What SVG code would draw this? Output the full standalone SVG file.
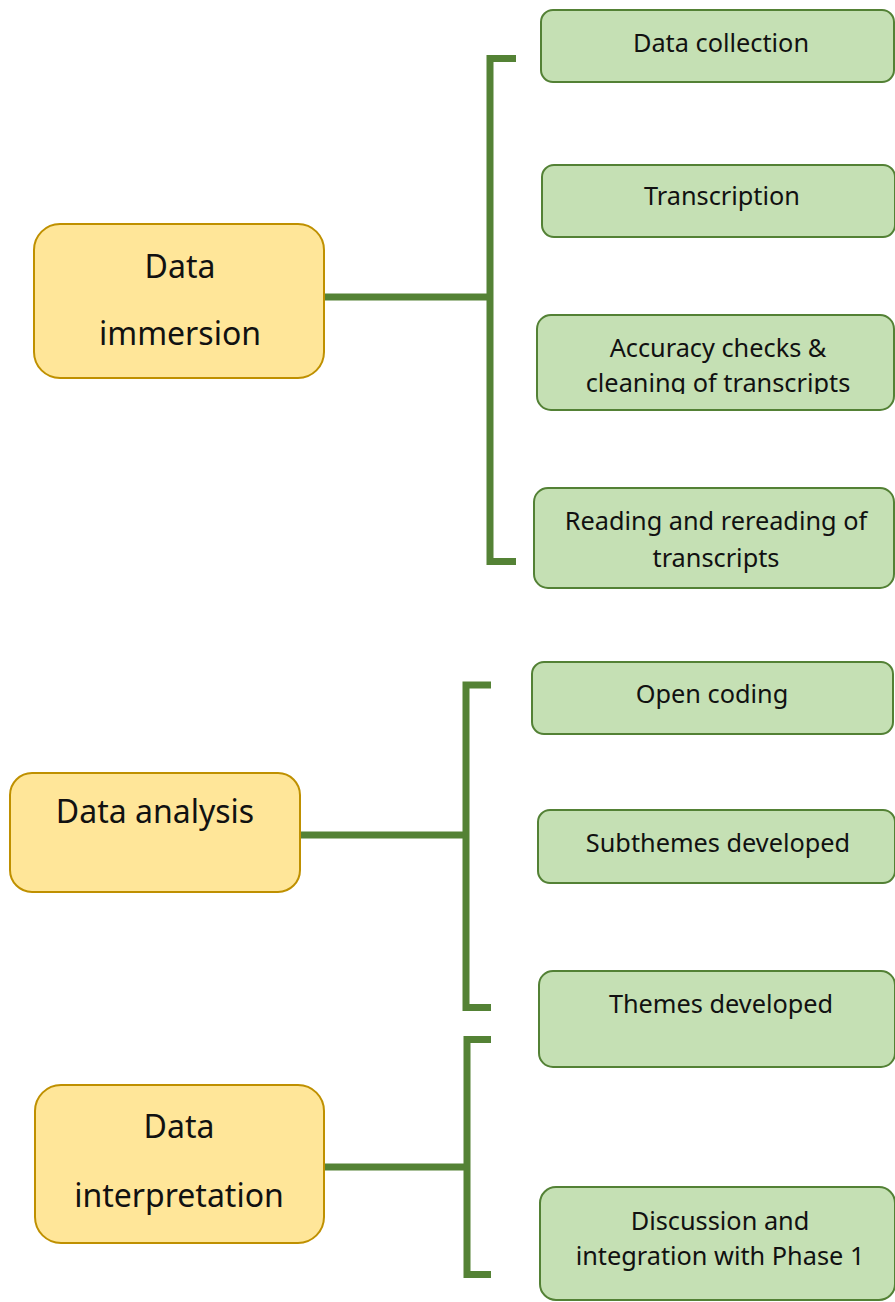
<svg xmlns="http://www.w3.org/2000/svg" width="895" height="1302" viewBox="0 0 895 1302">
  <style>
    .phase rect { fill: #FFE699; stroke: #BF9000; stroke-width: 2; }
    .step rect { fill: #C5E0B4; stroke: #538135; stroke-width: 2; }
    text { font-family: "Noto Sans", "Open Sans", sans-serif; fill: #111; text-anchor: middle; }
    .phase text { font-size: 32px; }
    .step text { font-size: 25.3px; }
    .link { fill: none; stroke: #548235; stroke-width: 7; stroke-linejoin: miter; stroke-linecap: butt; }
  </style>
  <defs>
    <clipPath id="clip-accuracy">
      <rect x="537" y="314" width="360" height="80"/>
    </clipPath>
  </defs>
  <rect width="895" height="1302" fill="#ffffff"/>

  <!-- brackets joining each phase to its steps -->
  <g id="connectors">
    <path class="link" d="M324,297 H490"/>
    <path class="link" d="M516,58.5 H490 V561.5 H516"/>
    <path class="link" d="M300,835 H466"/>
    <path class="link" d="M491,685 H466 V1007.5 H491"/>
    <path class="link" d="M324,1167 H467"/>
    <path class="link" d="M491,1039.5 H467 V1274.5 H491"/>
  </g>

  <!-- phases -->
  <g id="phase-immersion" class="phase">
    <rect x="34" y="224" width="290" height="154" rx="26"/>
    <text x="180" y="278">Data</text>
    <text x="180" y="345">immersion</text>
  </g>
  <g id="phase-analysis" class="phase">
    <rect x="10" y="773" width="290" height="119" rx="22"/>
    <text x="155" y="823">Data analysis</text>
  </g>
  <g id="phase-interpretation" class="phase">
    <rect x="35" y="1085" width="289" height="158" rx="26"/>
    <text x="179" y="1138">Data</text>
    <text x="179" y="1207">interpretation</text>
  </g>

  <!-- steps of data immersion -->
  <g id="step-collection" class="step">
    <rect x="541" y="10" width="353" height="72" rx="12"/>
    <text x="721" y="52">Data collection</text>
  </g>
  <g id="step-transcription" class="step">
    <rect x="542" y="165" width="353" height="72" rx="12"/>
    <text x="722" y="205">Transcription</text>
  </g>
  <g id="step-accuracy" class="step">
    <rect x="537" y="315" width="357" height="95" rx="14"/>
    <g clip-path="url(#clip-accuracy)">
      <text x="718" y="357">Accuracy checks &amp;</text>
      <text x="718" y="392">cleaning of transcripts</text>
    </g>
  </g>
  <g id="step-reading" class="step">
    <rect x="534" y="488" width="360" height="100" rx="14"/>
    <text x="716" y="530">Reading and rereading of</text>
    <text x="716" y="567">transcripts</text>
  </g>

  <!-- steps of data analysis -->
  <g id="step-open-coding" class="step">
    <rect x="532" y="662" width="361" height="72" rx="12"/>
    <text x="712" y="703">Open coding</text>
  </g>
  <g id="step-subthemes" class="step">
    <rect x="538" y="810" width="357" height="73" rx="12"/>
    <text x="718" y="852">Subthemes developed</text>
  </g>
  <g id="step-themes" class="step">
    <rect x="539" y="971" width="356" height="96" rx="14"/>
    <text x="721" y="1013">Themes developed</text>
  </g>

  <!-- step of data interpretation -->
  <g id="step-discussion" class="step">
    <rect x="540" y="1187" width="355" height="113" rx="16"/>
    <text x="720" y="1230">Discussion and</text>
    <text x="720" y="1265">integration with Phase 1</text>
  </g>
</svg>
